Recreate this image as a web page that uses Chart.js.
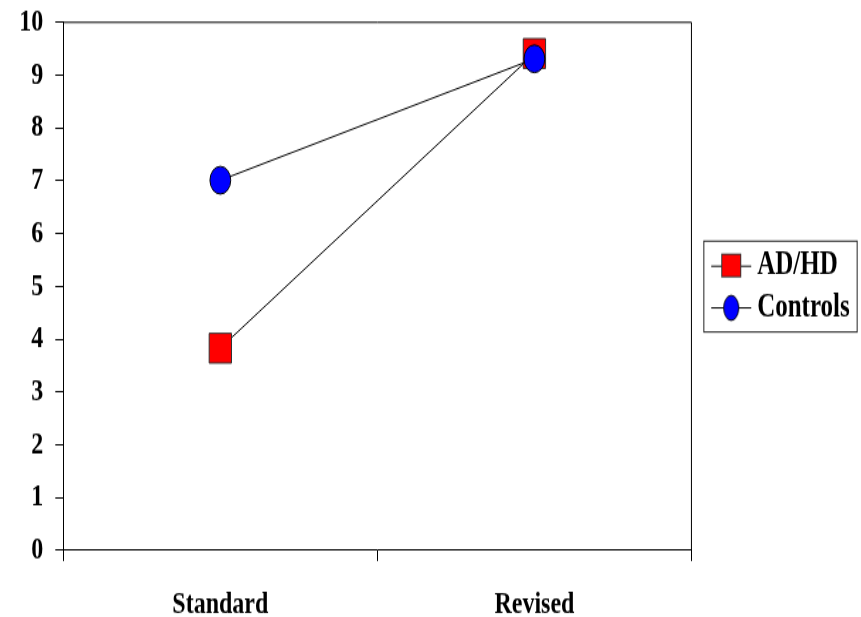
<!DOCTYPE html>
<html><head><meta charset="utf-8">
<script src="https://cdn.jsdelivr.net/npm/chart.js@4.4.1/dist/chart.umd.min.js"></script>
<style>
html,body{margin:0;padding:0;background:#fff;}
#outer{width:861px;height:617px;position:relative;}
#wrap{position:absolute;left:0;top:0;width:861px;height:464px;transform:scaleY(1.3297);transform-origin:0 0;}
</style></head><body>
<div id="outer"><div id="wrap"><canvas id="c" width="861" height="464"></canvas></div></div>
<script>
const categories = ['Standard', 'Revised'];
const seriesNames = ['AD/HD', 'Controls'];
const adhdValues = [3.83, 9.41];
const controlsValues = [7.01, 9.31];
const yMin = 0, yMax = 10, yStep = 1;

const FONT = "'Liberation Serif','Times New Roman',serif";
Chart.defaults.font.family = FONT;

function legendIcon(kind, fill) {
  const W = 62, Hh = 24;
  const c = document.createElement('canvas'); c.width = W; c.height = Hh;
  const g = c.getContext('2d');
  const cy = Hh / 2;
  g.strokeStyle = '#000'; g.lineWidth = 1;
  g.beginPath(); g.moveTo(W / 2 - 10, cy + 0.5); g.lineTo(W / 2 + 30, cy + 0.5); g.stroke();
  const mx = W / 2 + 10;
  g.fillStyle = fill;
  if (kind === 'rect') {
    g.fillRect(mx - 10, cy - 9, 20, 18);
    g.strokeStyle = '#333';
    g.strokeRect(mx - 10 + 0.5, cy - 9 + 0.5, 19, 17);
  } else {
    g.beginPath(); g.ellipse(mx, cy + 0.5, 7.5, 9.4, 0, 0, Math.PI * 2); g.fill(); g.stroke();
  }
  return c;
}
const icons = [legendIcon('rect', '#ff0000'), legendIcon('circle', '#0000ff')];

const framePlugin = {
  id: 'frame',
  afterDraw(chart) {
    const { ctx, chartArea: a } = chart;
    ctx.save();
    ctx.strokeStyle = '#000'; ctx.lineWidth = 1;
    ctx.beginPath();
    ctx.moveTo(a.left, a.top); ctx.lineTo(a.right, a.top); ctx.lineTo(a.right, a.bottom);
    ctx.stroke();
    const hb = chart.legend && chart.legend.legendHitBoxes;
    if (hb && hb.length) {
      const last = hb[hb.length - 1];
      const l = hb[0].left + 6, r = hb[0].left + 159.3;
      const t = hb[0].top - 5.85, b = last.top + last.height + 6.1;
      ctx.strokeStyle = '#222';
      ctx.strokeRect(l, t, r - l, b - t);
    }
    ctx.restore();
  }
};

const tickFont = { family: FONT, size: 24, weight: 'bold' };

new Chart(document.getElementById('c'), {
  type: 'line',
  data: {
    labels: categories,
    datasets: [
      {
        label: seriesNames[0], data: adhdValues,
        borderColor: '#000', borderWidth: 1, tension: 0, fill: false,
        pointStyle: 'rect', pointRadius: 15.8, pointHoverRadius: 15.8,
        pointBackgroundColor: '#ff0000', pointBorderColor: '#333', pointBorderWidth: 1,
        order: 1
      },
      {
        label: seriesNames[1], data: controlsValues,
        borderColor: '#000', borderWidth: 1, tension: 0, fill: false,
        pointStyle: 'circle', pointRadius: 10.4, pointHoverRadius: 10.4,
        pointBackgroundColor: '#0000ff', pointBorderColor: '#000', pointBorderWidth: 1,
        order: 0
      }
    ]
  },
  options: {
    responsive: false,
    animation: false,
    devicePixelRatio: 1,
    layout: { padding: { top: 0, left: 0, right: 1.25, bottom: 0 } },
    plugins: {
      tooltip: { enabled: false },
      legend: {
        position: 'right', align: 'center', fullSize: false,
        labels: {
          usePointStyle: true, pointStyleWidth: 46.8, padding: 6.4,
          font: { family: FONT, size: 25, weight: 'bold' }, color: '#000',
          generateLabels(chart) {
            return chart.data.datasets.map((ds, i) => ({
              text: ds.label, pointStyle: icons[i], fillStyle: ds.pointBackgroundColor,
              strokeStyle: '#000', lineWidth: 0, hidden: false, datasetIndex: i, fontColor: '#000'
            }));
          }
        }
      }
    },
    scales: {
      x: {
        type: 'category', offset: true,
        grid: { offset: true, drawOnChartArea: false, drawTicks: true, tickLength: 8, color: '#000', tickColor: '#000' },
        border: { display: true, color: '#000', width: 1 },
        ticks: { font: { ...tickFont, lineHeight: 1.2 }, color: '#000', padding: 18, maxRotation: 0, autoSkip: false },
        afterFit(axis) { axis.height = 50.1; }
      },
      y: {
        min: yMin, max: yMax,
        ticks: { stepSize: yStep, font: { ...tickFont, lineHeight: 1.05 }, color: '#000', padding: 12 },
        grid: { drawOnChartArea: false, tickLength: 8, color: '#000', tickColor: '#000' },
        border: { display: true, color: '#000', width: 1 },
        afterFit(axis) { axis.width = 63.3; axis.paddingTop = 12.6; axis.paddingBottom = 0; }
      }
    }
  },
  plugins: [framePlugin]
});
</script>
</body></html>
